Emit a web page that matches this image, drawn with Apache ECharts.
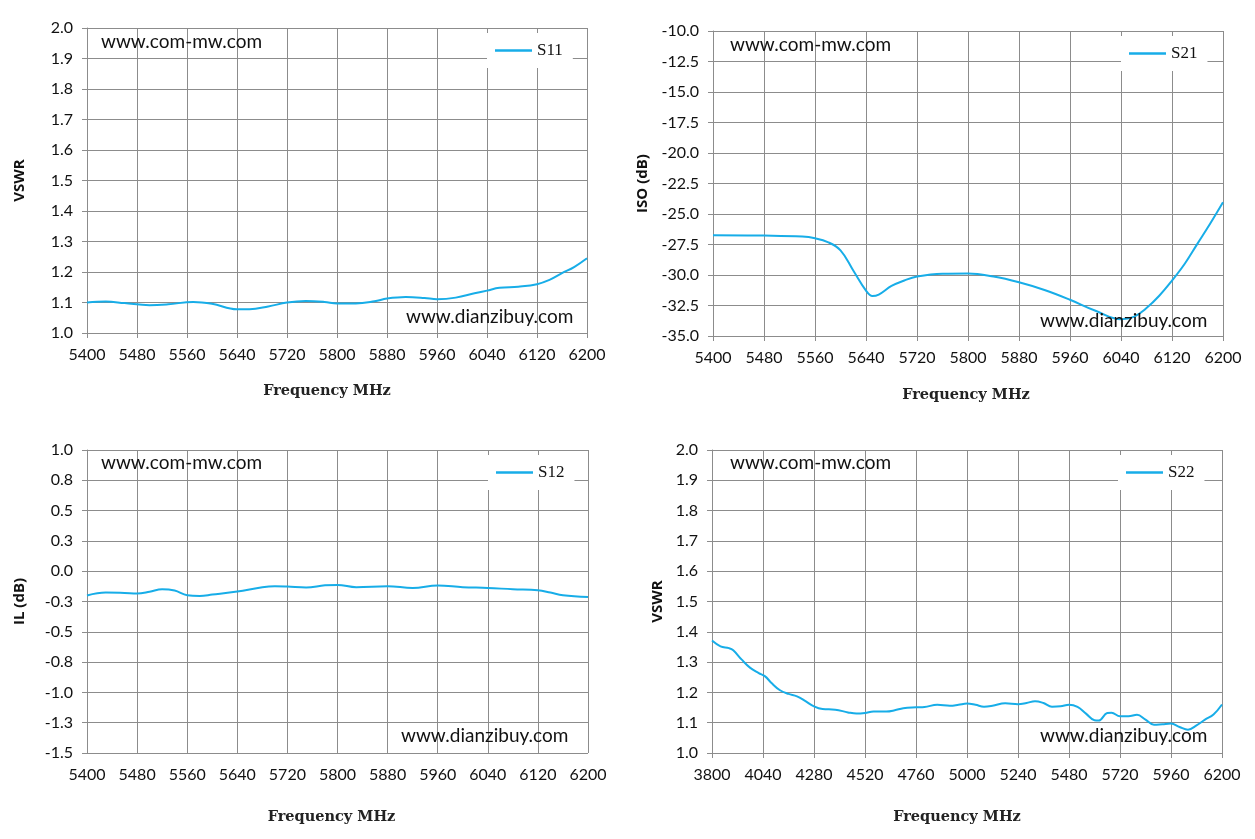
<!DOCTYPE html>
<html>
<head>
<meta charset="utf-8">
<script src="https://cdn.jsdelivr.net/npm/echarts@6/dist/echarts.min.js"></script>
<style>
  html, body { margin: 0; padding: 0; background: #fff; }
  #main { width: 1255px; height: 839px; }
</style>
</head>
<body>
<div id="main"></div>
<script>
// S11 - VSWR, 5400..6200 MHz
const S11_FREQ = [5400, 5430, 5460, 5500, 5530, 5570, 5600, 5640, 5660, 5690, 5720, 5750, 5780, 5800, 5830, 5860, 5880, 5910, 5940, 5960, 5990, 6020, 6040, 6060, 6090, 6120, 6140, 6160, 6180, 6200];
const S11_VSWR = [1.100, 1.103, 1.098, 1.091, 1.094, 1.102, 1.096, 1.078, 1.078, 1.087, 1.100, 1.105, 1.102, 1.097, 1.097, 1.104, 1.113, 1.118, 1.115, 1.111, 1.116, 1.130, 1.139, 1.148, 1.152, 1.160, 1.174, 1.196, 1.217, 1.245];

// S21 - isolation (dB), 5400..6200 MHz
const S21_FREQ = [5400, 5480, 5540, 5560, 5580, 5600, 5620, 5640, 5650, 5660, 5680, 5700, 5720, 5760, 5800, 5840, 5880, 5920, 5960, 6000, 6040, 6060, 6080, 6100, 6120, 6140, 6160, 6180, 6200];
const S21_ISO = [-26.74, -26.77, -26.85, -26.99, -27.3, -27.98, -29.63, -31.28, -31.72, -31.6, -30.9, -30.45, -30.13, -29.9, -29.88, -30.13, -30.6, -31.23, -32.03, -32.93, -33.62, -33.43, -32.71, -31.7, -30.46, -29.08, -27.43, -25.78, -24.04];

// S12 - insertion loss (dB), 5400..6200 MHz
const S12_FREQ = [5400, 5430, 5460, 5480, 5500, 5520, 5540, 5560, 5580, 5600, 5640, 5680, 5700, 5720, 5750, 5780, 5800, 5830, 5880, 5920, 5960, 6000, 6040, 6080, 6120, 6140, 6160, 6200];
const S12_IL = [-0.20, -0.176, -0.18, -0.185, -0.17, -0.149, -0.16, -0.198, -0.204, -0.193, -0.168, -0.132, -0.124, -0.127, -0.135, -0.116, -0.113, -0.132, -0.124, -0.138, -0.118, -0.132, -0.138, -0.149, -0.157, -0.176, -0.198, -0.212];

// S22 - VSWR, 3800..6200 MHz
const S22_FREQ = [3800, 3840, 3880, 3900, 3940, 3980, 4020, 4050, 4080, 4120, 4160, 4200, 4240, 4280, 4320, 4380, 4440, 4480, 4520, 4560, 4620, 4660, 4700, 4760, 4800, 4860, 4920, 4960, 5000, 5040, 5080, 5120, 5180, 5240, 5280, 5320, 5360, 5400, 5440, 5480, 5520, 5560, 5600, 5620, 5660, 5680, 5720, 5760, 5800, 5840, 5880, 5920, 5960, 6000, 6040, 6080, 6120, 6160, 6200];
const S22_VSWR = [1.371, 1.352, 1.346, 1.339, 1.308, 1.281, 1.264, 1.253, 1.231, 1.207, 1.195, 1.187, 1.171, 1.154, 1.145, 1.143, 1.134, 1.130, 1.132, 1.137, 1.137, 1.141, 1.148, 1.151, 1.152, 1.159, 1.156, 1.159, 1.163, 1.159, 1.153, 1.156, 1.164, 1.161, 1.165, 1.171, 1.165, 1.153, 1.154, 1.159, 1.152, 1.130, 1.108, 1.107, 1.132, 1.133, 1.121, 1.121, 1.126, 1.110, 1.093, 1.095, 1.097, 1.086, 1.077, 1.091, 1.110, 1.127, 1.160];

const WATERMARK_TOP = "www.com-mw.com";
const WATERMARK_BOTTOM = "www.dianzibuy.com";

const chartDom = document.getElementById("main");
const myChart = echarts.init(chartDom);

const LINE_COLOR = "#17ade8";
const GRID_COLOR = "#8c8c8c";
const LABEL_FONT = "Lato";

const pairs = (xs, ys) => xs.map((x, i) => [x, ys[i]]);

const grids = [
    { left: 87, top: 28, width: 500, height: 305 },
    { left: 713, top: 31, width: 510, height: 305 },
    { left: 87, top: 450, width: 501, height: 303 },
    { left: 712, top: 450, width: 510, height: 303 },
];

// shift is how far the axis title sits left of the plot centre
function xAxis(gridIndex, min, max, interval, nameGap, shift) {
    return {
        type: "value",
        gridIndex: gridIndex,
        min: min,
        max: max,
        interval: interval,
        name: "Frequency MHz",
        nameLocation: "middle",
        nameGap: nameGap,
        nameTextStyle: {
            fontFamily: "DejaVu Serif",
            fontWeight: "bold",
            fontSize: 14.5,
            color: "#222",
            padding: [0, shift * 2, 0, 0],
        },
        axisLine: { show: true, lineStyle: { color: GRID_COLOR } },
        axisTick: { show: true, length: 5, lineStyle: { color: GRID_COLOR } },
        axisLabel: {
            color: "#111",
            fontFamily: LABEL_FONT,
            fontSize: 16,
            margin: 14,
            formatter: (v) => String(v),
        },
        splitLine: { show: true, lineStyle: { color: GRID_COLOR } },
    };
}

function yAxis(gridIndex, name, min, max, interval, nameGap) {
    return {
        type: "value",
        gridIndex: gridIndex,
        min: min,
        max: max,
        interval: interval,
        name: name,
        nameLocation: "middle",
        nameGap: nameGap,
        nameRotate: 90,
        nameTextStyle: {
            fontFamily: "Open Sans",
            fontWeight: "bold",
            fontSize: 15,
            color: "#111",
        },
        axisLine: { show: true, lineStyle: { color: GRID_COLOR } },
        axisTick: { show: true, length: 5, lineStyle: { color: GRID_COLOR } },
        axisLabel: {
            color: "#111",
            fontFamily: LABEL_FONT,
            fontSize: 16,
            margin: 14,
            formatter: (v) => v.toFixed(1),
        },
        splitLine: { show: true, lineStyle: { color: GRID_COLOR } },
    };
}

function legend(name, left, top) {
    return {
        data: [name],
        left: left,
        top: top,
        orient: "horizontal",
        backgroundColor: "#fff",
        padding: [9, 10, 9, 8],
        icon: "rect",
        itemWidth: 37,
        itemHeight: 2.5,
        textStyle: { fontFamily: "Liberation Serif", fontSize: 17, color: "#111" },
    };
}

function lineSeries(name, idx, data) {
    return {
        type: "line",
        name: name,
        xAxisIndex: idx,
        yAxisIndex: idx,
        data: data,
        smooth: 0.4,
        showSymbol: false,
        symbol: "none",
        color: LINE_COLOR,
        lineStyle: { color: LINE_COLOR, width: 2 },
        z: 3,
    };
}

function watermark(text, left, top) {
    return {
        type: "text",
        left: left,
        top: top,
        z: 100,
        style: { text: text, fontFamily: LABEL_FONT, fontSize: 19, fill: "#111" },
    };
}

const option = {
    animation: false,
    grid: grids,
    xAxis: [
        xAxis(0, 5400, 6200, 80, 51, 10),
        xAxis(1, 5400, 6200, 80, 52, 2),
        xAxis(2, 5400, 6200, 80, 57, 6),
        xAxis(3, 3800, 6200, 240, 57, 10),
    ],
    yAxis: [
        yAxis(0, "VSWR", 1.0, 2.0, 0.1, 60),
        yAxis(1, "ISO (dB)", -35, -10, 2.5, 63),
        yAxis(2, "IL (dB)", -1.5, 1.0, 0.25, 60),
        yAxis(3, "VSWR", 1.0, 2.0, 0.1, 47),
    ],
    legend: [
        legend("S11", 487, 33),
        legend("S21", 1121, 36),
        legend("S12", 488, 455),
        legend("S22", 1118, 455),
    ],
    series: [
        lineSeries("S11", 0, pairs(S11_FREQ, S11_VSWR)),
        lineSeries("S21", 1, pairs(S21_FREQ, S21_ISO)),
        lineSeries("S12", 2, pairs(S12_FREQ, S12_IL)),
        lineSeries("S22", 3, pairs(S22_FREQ, S22_VSWR)),
    ],
    graphic: [
        watermark(WATERMARK_TOP, 101, 32),
        watermark(WATERMARK_BOTTOM, 406, 307),
        watermark(WATERMARK_TOP, 730, 35),
        watermark(WATERMARK_BOTTOM, 1040, 311),
        watermark(WATERMARK_TOP, 101, 453),
        watermark(WATERMARK_BOTTOM, 401, 726),
        watermark(WATERMARK_TOP, 730, 453),
        watermark(WATERMARK_BOTTOM, 1040, 726),
    ],
};

myChart.setOption(option);
</script>
</body>
</html>
